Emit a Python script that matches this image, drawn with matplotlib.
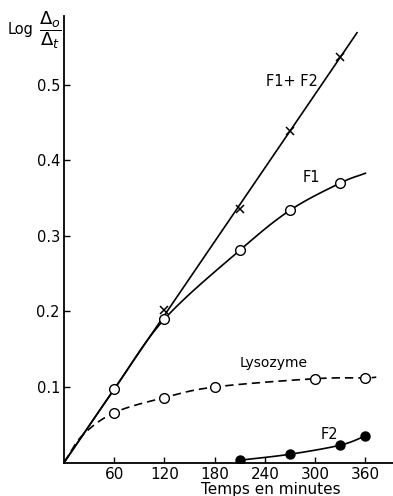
import numpy as np
import matplotlib.pyplot as plt

# values (time in minutes, log(D0/Dt))
f12_t = [120, 210, 270, 330]
f12_y = [0.202, 0.336, 0.439, 0.537]
f12_line_t = [0, 350]
f12_line_y = [0.0, 0.569]

f1_t = [60, 120, 210, 270, 330]
f1_y = [0.097, 0.190, 0.281, 0.334, 0.370]
f1_curve_t = [0, 60, 120, 210, 270, 330, 360]
f1_curve_y = [0.0, 0.097, 0.190, 0.281, 0.334, 0.370, 0.383]

lyso_t = [60, 120, 180, 300, 360]
lyso_y = [0.066, 0.086, 0.100, 0.111, 0.112]
lyso_curve_t = [0, 22, 60, 120, 180, 300, 360, 373]
lyso_curve_y = [0.0, 0.036, 0.066, 0.086, 0.100, 0.111, 0.112, 0.113]

f2_t = [210, 270, 330, 360]
f2_y = [0.003, 0.011, 0.023, 0.035]

xticks = [60, 120, 180, 240, 300, 360]
yticks = [0.1, 0.2, 0.3, 0.4, 0.5]


def smooth(x, y, n=20):
    # catmull-rom through the knots, only for drawing the curve
    x = np.asarray(x, float)
    y = np.asarray(y, float)
    px = np.concatenate([[2 * x[0] - x[1]], x, [2 * x[-1] - x[-2]]])
    py = np.concatenate([[2 * y[0] - y[1]], y, [2 * y[-1] - y[-2]]])
    xs, ys = [], []
    for i in range(1, len(px) - 2):
        s = np.linspace(0, 1, n, endpoint=False)
        for p, out in ((px, xs), (py, ys)):
            p0, p1, p2, p3 = p[i - 1], p[i], p[i + 1], p[i + 2]
            out.extend(0.5 * (2 * p1 + (-p0 + p2) * s
                              + (2 * p0 - 5 * p1 + 4 * p2 - p3) * s ** 2
                              + (-p0 + 3 * p1 - 3 * p2 + p3) * s ** 3))
    xs.append(x[-1])
    ys.append(y[-1])
    return np.array(xs), np.array(ys)


plt.rcParams['font.family'] = ['DejaVu Sans']
fig = plt.figure(figsize=(3.93, 4.96), dpi=100)
ax = fig.add_axes([0.163, 0.0675, 0.837, 0.90])

k = 'black'
ax.plot(f12_line_t, f12_line_y, color=k, lw=1.2)
ax.plot(f12_t, f12_y, ls='none', marker='x', ms=6, mew=1.1, color=k)

cx, cy = smooth(f1_curve_t, f1_curve_y)
ax.plot(cx, cy, color=k, lw=1.2)
ax.plot(f1_t, f1_y, ls='none', marker='o', ms=7, mfc='white', mec=k, mew=1.0)

cx, cy = smooth(lyso_curve_t, lyso_curve_y)
ax.plot(cx, cy, color=k, lw=1.2, ls=(0, (5, 3)))
ax.plot(lyso_t, lyso_y, ls='none', marker='o', ms=7, mfc='white', mec=k, mew=1.0)

cx, cy = smooth(f2_t, f2_y)
ax.plot(cx, cy, color=k, lw=1.2)
ax.plot(f2_t, f2_y, ls='none', marker='o', ms=6.5, color=k)

ax.text(272, 0.504, 'F1+ F2', fontsize=10.5, ha='center', va='center')
ax.text(296, 0.378, 'F1', fontsize=10.5, ha='center', va='center')
ax.text(250, 0.132, 'Lysozyme', fontsize=10, ha='center', va='center')
ax.text(317, 0.037, 'F2', fontsize=10.5, ha='center', va='center')

ax.set_xlim(0, 393)
ax.set_ylim(0, 0.591)
ax.set_xticks(xticks)
ax.set_xticklabels([str(t) for t in xticks], fontsize=11)
ax.set_yticks(yticks)
ax.set_yticklabels(['0.1', '0.2', '0.3', '0.4', '0.5'], fontsize=10.5)
ax.tick_params(direction='in', length=4, width=1, pad=3)
ax.spines['top'].set_visible(False)
ax.spines['right'].set_visible(False)
ax.spines['left'].set_linewidth(1.3)
ax.spines['bottom'].set_linewidth(1.3)

ax.set_xlabel('Temps en minutes', fontsize=11)
ax.xaxis.set_label_coords(0.63, -0.043)
fig.text(0.02, 0.94, 'Log', fontsize=10.5, va='center', ha='left')
fig.text(0.10, 0.94, r'$\dfrac{\Delta_o}{\Delta_t}$', fontsize=13,
         va='center', ha='left')

fig.savefig('out.png', dpi=100)
